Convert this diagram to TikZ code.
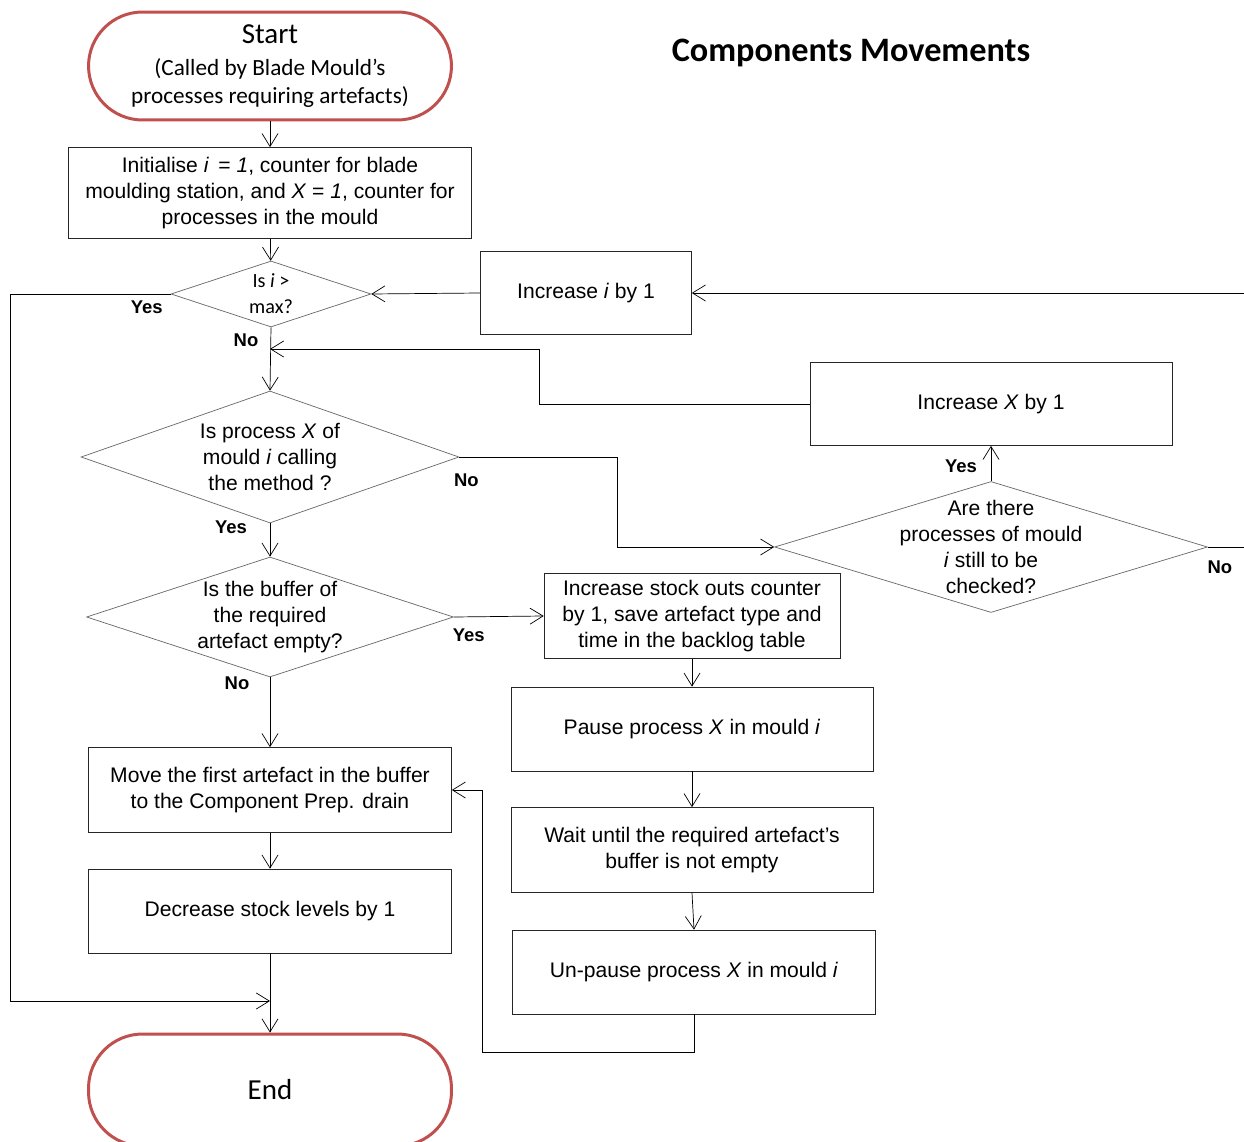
\documentclass[tikz,border=0pt]{standalone}
\usepackage{fontspec}
\setmainfont{Liberation Sans}
\newfontfamily\calib{Carlito}
\usepackage{tikz}
\usetikzlibrary{arrows.meta,shapes.geometric}
\definecolor{termred}{RGB}{192,80,77}
\newcommand\bigline{\fontsize{16.5}{18}\selectfont}

\begin{document}
\begin{tikzpicture}[x=0.02cm, y=-0.02cm, font=\fontsize{12}{14.7}\selectfont,
  box/.style={draw=black!85, align=center, inner sep=2pt, minimum width=7.26cm, minimum height=1.7cm},
  dia/.style={draw=black!60, diamond, align=center, inner xsep=-2.4cm, inner ysep=-1.4cm},
  term/.style={draw=termred, line width=1.7pt, rounded corners=1.08cm, align=center,
    minimum width=7.26cm, minimum height=2.16cm, font=\calib\fontsize{13.2}{15.9}\selectfont},
  lbl/.style={font=\fontsize{10.5}{12}\selectfont\bfseries, inner sep=0pt},
  arr/.style={-{Straight Barb[length=2.6mm, width=3.2mm]}}]
\useasboundingbox (0,0) rectangle (1244,1142);
\node[term] (start) at (270,66) {{\bigline Start}\\[2pt](Called by Blade Mould’s\\processes requiring artefacts)};
\node[font=\calib\bfseries\fontsize{19.5}{23}\selectfont] (title) at (851,53) {Components Movements};
\node[box, minimum width=8.06cm, minimum height=1.82cm] (init) at (270,193)
  {Initialise \textit{i}\, = \textit{1}, counter for blade\\ moulding station, and \textit{X} = \textit{1}, counter for\\ processes in the mould};
\node[dia, minimum width=4cm, minimum height=1.32cm, font=\calib\fontsize{11.5}{14.7}\selectfont] (maxq) at (271,294) {Is \textit{i} >\\ max?};
\node[box, minimum width=4.22cm, minimum height=1.66cm] (inci) at (586,293) {Increase \textit{i} by 1};
\node[box, minimum width=7.24cm, minimum height=1.66cm] (incx) at (991,404) {Increase \textit{X} by 1};
\node[dia, minimum width=7.56cm, minimum height=2.64cm] (calling) at (270,457) {Is process \textit{X} of\\ mould \textit{i} calling\\ the method ?};
\node[dia, minimum width=8.66cm, minimum height=2.62cm] (more) at (991,547) {Are there\\ processes of mould\\ \textit{i} still to be\\ checked?};
\node[dia, minimum width=7.34cm, minimum height=2.4cm] (emptyq) at (270,617) {Is the buffer of\\ the required\\ artefact empty?};
\node[box, minimum width=5.92cm] (stock) at (692,616) {Increase stock outs counter\\ by 1, save artefact type and\\ time in the backlog table};
\node[box, minimum width=7.24cm, minimum height=1.68cm] (pause) at (692,729) {Pause process \textit{X} in mould \textit{i}};
\node[box, minimum width=7.24cm] (wait) at (692,850) {Wait until the required artefact’s\\ buffer is not empty};
\node[box, minimum height=1.68cm] (unp) at (694,972) {Un-pause process \textit{X} in mould \textit{i}};
\node[box] (move) at (270,790) {Move the first artefact in the buffer\\ to the Component Prep. drain};
\node[box, minimum height=1.68cm] (dec) at (270,911) {Decrease stock levels by 1};
\node[term, minimum height=2.24cm, font=\calib\bigline] (end) at (270,1090) {End};
\coordinate (jx) at (270,349);
\coordinate (je) at (270,1001);
\draw[arr] (start) -- (init);
\draw[arr] (init) -- (maxq);
\draw[arr] (maxq.west) -- node[lbl, pos=0, shift={(-24,13)}] (yes1) {Yes} ++(-160,0) |- (je);
\draw[arr] (maxq.south) -- node[lbl, pos=0, shift={(-25,13)}] (no1) {No} (calling.north);
\draw[arr] (inci.west) -- (maxq.east);
\draw[arr] (incx.west) -- ++(-270,0) |- (jx);
\draw[arr] (calling.east) -- node[lbl, pos=0, shift={(7,23)}] (no2) {No} ++(158,0) |- (more.west);
\draw[arr] (calling.south) -- node[lbl, pos=0, shift={(-39,4)}] (yes2) {Yes} (emptyq.north);
\draw[arr] (more.north) -- node[lbl, pos=0, shift={(-30,-15)}] (yes3) {Yes} (incx.south);
\draw[arr] (more.east) -- node[lbl, pos=0, shift={(12,20)}] (no3) {No} ++(60,0) |- (inci.east);
\draw[arr] (emptyq.east) -- node[lbl, pos=0, shift={(15,18)}] (yes4) {Yes} (stock.west);
\draw[arr] (emptyq.south) -- node[lbl, pos=0, shift={(-33,6)}] (no4) {No} (move.north);
\draw[arr] (stock) -- (pause);
\draw[arr] (pause) -- (wait);
\draw[arr] (wait.south) -- (unp.north);
\draw[arr] (unp.south) -- ++(0,38) -- ++(-212,0) |- (move.east);
\draw[arr] (move) -- (dec);
\draw[arr] (dec) -- (end);
\end{tikzpicture}
\end{document}
